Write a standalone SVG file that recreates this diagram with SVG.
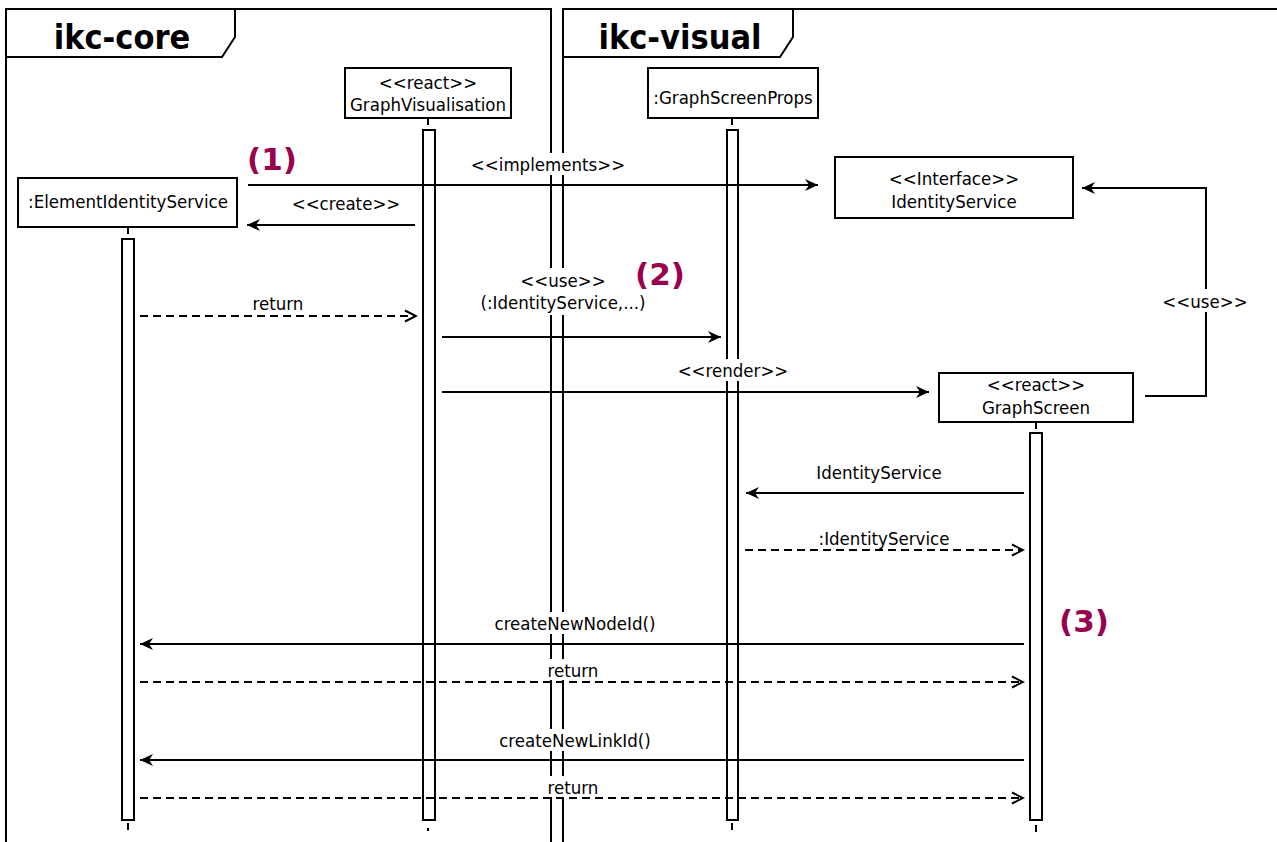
<svg xmlns="http://www.w3.org/2000/svg" width="1277" height="842" viewBox="0 0 1277 842">
  <style>
    .frame { fill: none; stroke: #000; stroke-width: 2; }
    .box { fill: #fff; stroke: #000; stroke-width: 2; }
    .bar { fill: #fff; stroke: #000; stroke-width: 2; }
    .tick { stroke: #000; stroke-width: 2; }
    .msg { fill: none; stroke: #000; stroke-width: 2; }
    .ret { fill: none; stroke: #000; stroke-width: 2; stroke-dasharray: 8 5; }
    .t { font-family: "DejaVu Sans Condensed", "DejaVu Sans", sans-serif; font-stretch: condensed; font-size: 18.5px; fill: #000; text-anchor: middle; }
    .title { font-family: "DejaVu Sans Condensed", "DejaVu Sans", sans-serif; font-stretch: condensed; font-size: 34px; font-weight: bold; fill: #000; text-anchor: middle; }
    .num { font-family: "DejaVu Sans", sans-serif; font-size: 31px; font-weight: bold; fill: #99004d; text-anchor: middle; }
    .bg { fill: #fff; }
  </style>
  <defs>
    <marker id="solid" viewBox="0 0 14 14" refX="13" refY="7" markerWidth="14" markerHeight="14" markerUnits="userSpaceOnUse" orient="auto">
      <path d="M0,1 L13,7 L0,13 L4,7 Z" fill="#000"/>
    </marker>
    <marker id="open" viewBox="0 0 14 14" refX="12" refY="7" markerWidth="14" markerHeight="14" markerUnits="userSpaceOnUse" orient="auto">
      <path d="M1,1.5 L12,7 L1,12.5" fill="none" stroke="#000" stroke-width="2"/>
    </marker>
  </defs>

  <rect width="1277" height="842" fill="#fff"/>

  <!-- package frames -->
  <g id="frame-core">
    <path class="frame" d="M6,850 V9 H551 V850"/>
    <path class="frame" d="M6,57 H222 L235,37 V9"/>
    <text class="title" x="122" y="49">ikc-core</text>
  </g>
  <g id="frame-visual">
    <path class="frame" d="M563,850 V9 H1285"/>
    <path class="frame" d="M563,57 H780 L793,37 V9"/>
    <text class="title" x="680" y="49">ikc-visual</text>
  </g>

  <!-- lifelines and activation bars -->
  <g id="lifelines">
    <line class="tick" x1="428" y1="119" x2="428" y2="125"/>
    <line class="tick" x1="732" y1="119" x2="732" y2="125"/>
    <line class="tick" x1="128" y1="228" x2="128" y2="234"/>
    <line class="tick" x1="1036" y1="423" x2="1036" y2="429"/>
    <rect class="bar" x="423" y="130" width="12" height="690"/>
    <rect class="bar" x="727" y="130" width="11" height="690"/>
    <rect class="bar" x="122" y="239" width="12" height="581"/>
    <rect class="bar" x="1030" y="433" width="12" height="387"/>
    <line class="tick" x1="128" y1="823" x2="128" y2="830"/>
    <line class="tick" x1="428" y1="828" x2="428" y2="831"/>
    <line class="tick" x1="732" y1="823" x2="732" y2="830"/>
    <line class="tick" x1="1036" y1="825" x2="1036" y2="832"/>
  </g>

  <!-- messages -->
  <g id="connectors">
    <line class="msg" x1="248" y1="185" x2="818" y2="185" marker-end="url(#solid)"/>
    <line class="msg" x1="415" y1="225" x2="247" y2="225" marker-end="url(#solid)"/>
    <line class="ret" x1="140" y1="316" x2="416" y2="316" marker-end="url(#open)"/>
    <line class="msg" x1="442" y1="337" x2="721" y2="337" marker-end="url(#solid)"/>
    <line class="msg" x1="442" y1="392" x2="929" y2="392" marker-end="url(#solid)"/>
    <path class="msg" d="M1145,396 H1206 V188 H1082" marker-end="url(#solid)"/>
    <line class="msg" x1="1024" y1="493" x2="746" y2="493" marker-end="url(#solid)"/>
    <line class="ret" x1="745" y1="550" x2="1023" y2="550" marker-end="url(#open)"/>
    <line class="msg" x1="1024" y1="644" x2="140" y2="644" marker-end="url(#solid)"/>
    <line class="ret" x1="140" y1="682" x2="1023" y2="682" marker-end="url(#open)"/>
    <line class="msg" x1="1024" y1="760" x2="140" y2="760" marker-end="url(#solid)"/>
    <line class="ret" x1="140" y1="798" x2="1023" y2="798" marker-end="url(#open)"/>

    <rect class="bg" x="470" y="153" width="158" height="22"/>
    <text class="t" x="548" y="171">&lt;&lt;implements&gt;&gt;</text>
    <text class="t" x="346" y="210">&lt;&lt;create&gt;&gt;</text>
    <text class="t" x="278" y="310">return</text>
    <rect class="bg" x="472" y="268" width="182" height="47"/>
    <text class="t" x="563" y="287">&lt;&lt;use&gt;&gt;</text>
    <text class="t" x="563" y="309">(:IdentityService,...)</text>
    <rect class="bg" x="676" y="359" width="115" height="22"/>
    <text class="t" x="733" y="377">&lt;&lt;render&gt;&gt;</text>
    <rect class="bg" x="1162" y="289" width="88" height="23"/>
    <text class="t" x="1205" y="308">&lt;&lt;use&gt;&gt;</text>
    <text class="t" x="879" y="479">IdentityService</text>
    <text class="t" x="884" y="545">:IdentityService</text>
    <rect class="bg" x="488" y="612" width="174" height="22"/>
    <text class="t" x="575" y="630">createNewNodeId()</text>
    <rect class="bg" x="544" y="659" width="58" height="21"/>
    <text class="t" x="573" y="677">return</text>
    <rect class="bg" x="494" y="729" width="162" height="22"/>
    <text class="t" x="575" y="747">createNewLinkId()</text>
    <rect class="bg" x="544" y="776" width="58" height="21"/>
    <text class="t" x="573" y="794">return</text>
  </g>

  <!-- step markers -->
  <g id="steps">
    <text class="num" x="272" y="170">(1)</text>
    <text class="num" x="660" y="285">(2)</text>
    <text class="num" x="1084" y="632">(3)</text>
  </g>

  <!-- participants -->
  <g id="graph-visualisation">
    <rect class="box" x="345" y="68" width="166" height="50"/>
    <text class="t" x="428" y="89">&lt;&lt;react&gt;&gt;</text>
    <text class="t" x="428" y="111">GraphVisualisation</text>
  </g>
  <g id="graph-screen-props">
    <rect class="box" x="648" y="68" width="170" height="50"/>
    <text class="t" x="733" y="104">:GraphScreenProps</text>
  </g>
  <g id="element-identity-service">
    <rect class="box" x="18" y="178" width="219" height="49"/>
    <text class="t" x="128" y="208">:ElementIdentityService</text>
  </g>
  <g id="identity-service">
    <rect class="box" x="835" y="157" width="238" height="61"/>
    <text class="t" x="954" y="185">&lt;&lt;Interface&gt;&gt;</text>
    <text class="t" x="954" y="208">IdentityService</text>
  </g>
  <g id="graph-screen">
    <rect class="box" x="939" y="373" width="194" height="49"/>
    <text class="t" x="1036" y="391">&lt;&lt;react&gt;&gt;</text>
    <text class="t" x="1036" y="414">GraphScreen</text>
  </g>
</svg>
